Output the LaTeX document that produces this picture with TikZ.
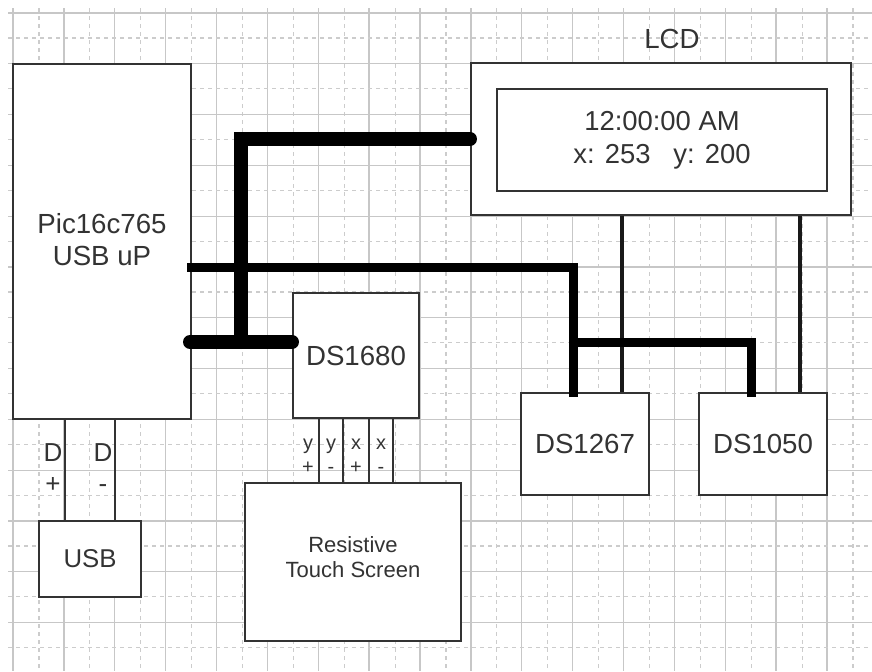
\documentclass[tikz,border=0pt]{standalone}
\usepackage{fontspec}
\setmainfont{Liberation Sans}
\usetikzlibrary{positioning, calc}
\definecolor{inkgray}{HTML}{333333}

\begin{document}
\begin{tikzpicture}[
    x=0.03cm,
    y=-0.03cm,
    gridmajor/.style={
        draw=black!22,
        line width=0.04cm
    },
    gridminor/.style={
        draw=black!20,
        line width=0.035cm,
        dash pattern=on 0.12cm off 0.12cm
    },
    block/.style={
        rectangle,
        draw=inkgray,
        fill=white,
        line width=0.06cm,
        text=inkgray,
        align=center,
        inner sep=0pt,
        font=\fontsize{23.6}{27.5}\selectfont
    },
    caption/.style={
        text=inkgray,
        align=center,
        inner sep=0pt,
        font=\fontsize{22.2}{26.5}\selectfont
    },
    pinlabel/.style={
        caption,
        font=\fontsize{17}{20.5}\selectfont
    },
    wire/.style={
        draw=inkgray,
        line width=0.07cm
    },
    link/.style={
        draw=black!90,
        line width=0.1cm
    },
    databus/.style={
        draw=black,
        line width=0.27cm
    },
    mainbus/.style={
        draw=black,
        line width=0.42cm,
        line cap=round
    }
]
    \useasboundingbox (0,0) rectangle (872,671);

    % Grid
    \foreach \k in {0,...,16} {
        \draw[gridmajor] ({13+50.875*\k},8) -- ({13+50.875*\k},671);
        \draw[gridminor] ({39+50.875*\k},8) -- ({39+50.875*\k},671);
    }
    \foreach \k in {0,...,12} {
        \draw[gridmajor] (8,{13+50.8*\k}) -- (872,{13+50.8*\k});
        \draw[gridminor] (8,{38+50.8*\k}) -- (872,{38+50.8*\k});
    }

    % Nodes
    \node[block, minimum width=5.34cm, minimum height=10.65cm, text depth=0.12cm] (pic) at (102,241.5) {Pic16c765\\USB uP};
    \node[block, minimum width=11.4cm, minimum height=4.56cm] (lcd) at (661,139) {};
    \node[block, minimum width=9.9cm, minimum height=3.06cm, font=\fontsize{23.4}{28}\selectfont] (display) at (662,140) {12:00:00 AM\\x: 253 \ \ y: 200};
    \node[caption, font=\fontsize{23.6}{27.5}\selectfont] (lcdname) at (672,39) {LCD};
    \node[block, minimum width=3.78cm, minimum height=3.75cm] (ds1680) at (356,355.5) {DS1680};
    \node[block, minimum width=3.84cm, minimum height=3.06cm] (ds1267) at (585,444) {DS1267};
    \node[block, minimum width=3.84cm, minimum height=3.06cm, right=1.44cm of ds1267] (ds1050) {DS1050};
    \node[block, minimum width=3.06cm, minimum height=2.28cm, font=\fontsize{22}{26}\selectfont] (usb) at (90,559) {USB};
    \node[block, minimum width=6.48cm, minimum height=4.74cm, text depth=0.3cm, font=\fontsize{18.8}{22}\selectfont] (touch) at (353,562) {Resistive\\Touch Screen};

    % Free ends of the buses
    \coordinate (busjoin) at (241,342);
    \coordinate (rtcjoin) at (573,342);
    \coordinate (picout) at (187,267);
    \coordinate (rtctap) at ([xshift=-0.36cm,yshift=-0.14cm]ds1267.north);
    \coordinate (rtcline) at ([xshift=1.11cm]ds1267.north);
    \coordinate (potline) at ([xshift=1.11cm]ds1050.north);
    \coordinate (pottap) at ([xshift=-0.36cm,yshift=-0.14cm]ds1050.north);
    \coordinate (dplusline) at ([xshift=-0.75cm]usb.north);
    \coordinate (dminusline) at ([xshift=0.75cm]usb.north);

    % Thin links
    \draw[link] (rtcline) -- (rtcline |- lcd.south);
    \draw[link] (potline) -- (potline |- lcd.south);
    \draw[wire] (dplusline) -- (dplusline |- pic.south);
    \draw[wire] (dminusline) -- (dminusline |- pic.south);
    \foreach \pin/\px in {a/319, b/343, c/369, d/393} {
        \coordinate (pin\pin) at (\px,483);
        \draw[wire] (pin\pin) -- (pin\pin |- ds1680.south);
    }

    % Pin labels
    \node[caption] (dplus) at (53,468) {D\\+};
    \node[caption] (dminus) at (103,468) {D\\-};
    \node[pinlabel] (yplus) at (308,456) {y\\+};
    \node[pinlabel] (yminus) at (331,456) {y\\-};
    \node[pinlabel] (xplus) at (356,456) {x\\+};
    \node[pinlabel] (xminus) at (381,456) {x\\-};

    % Buses
    \draw[databus] (picout) -| (rtctap);
    \draw[databus] (rtcjoin) -| (pottap);
    \draw[mainbus] (lcd.west) -| (busjoin);
    \draw[mainbus] (pic.east |- busjoin) ++(-0.06cm,0) -- (busjoin -| ds1680.west);
\end{tikzpicture}
\end{document}
